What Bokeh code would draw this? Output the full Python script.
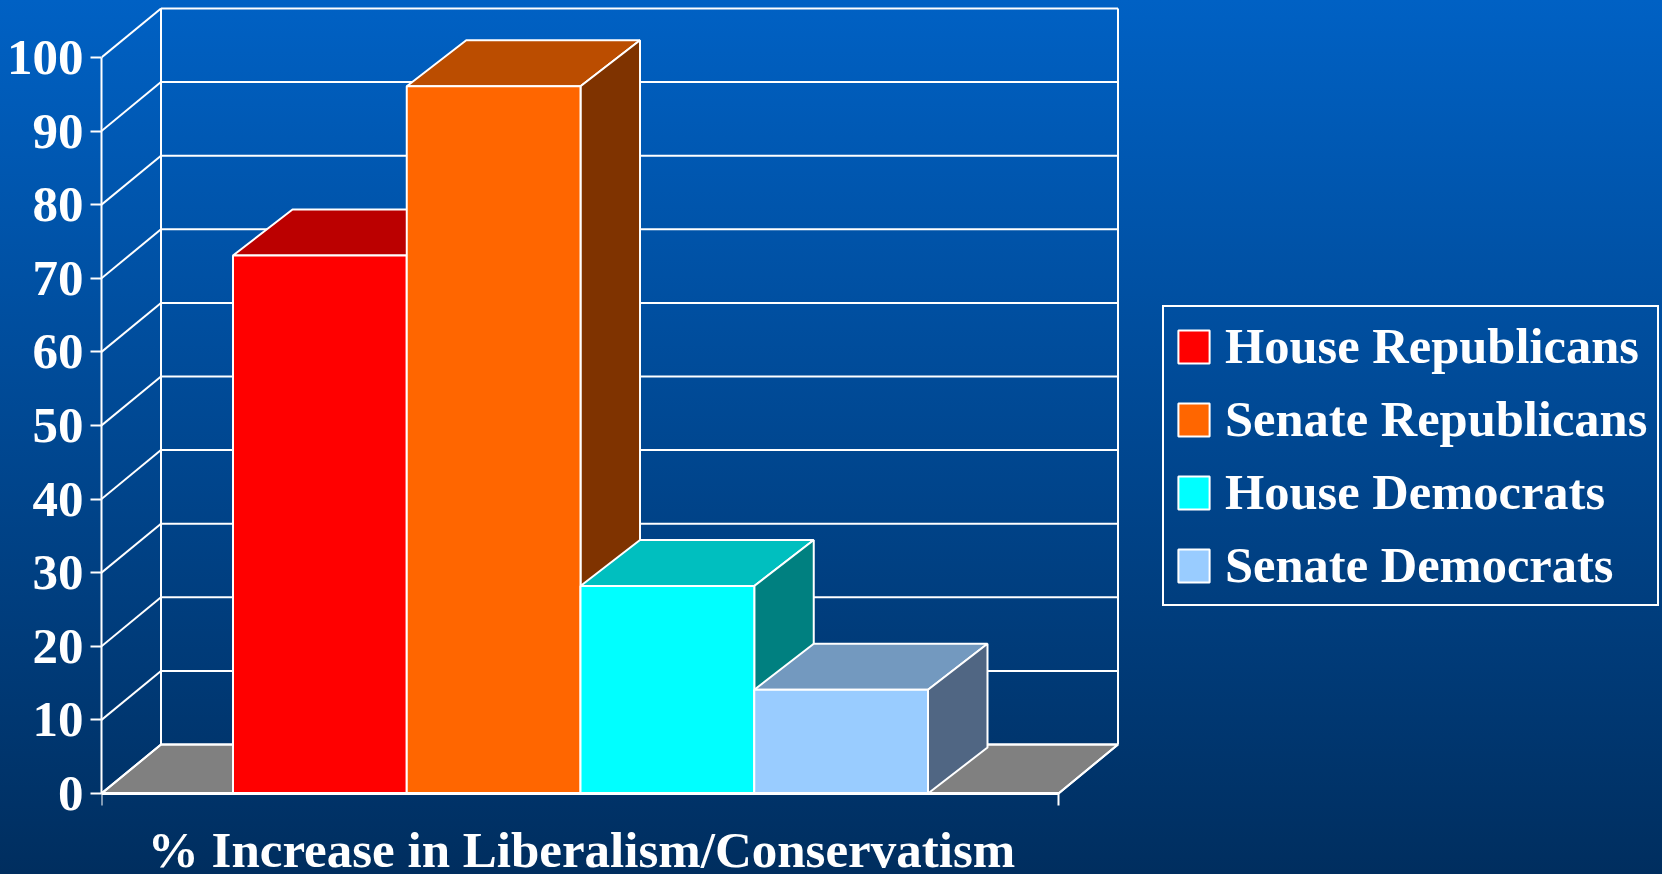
from bokeh.plotting import figure
from bokeh.models import Legend, LegendItem, FixedTicker, GlobalInlineStyleSheet, Label
from bokeh.embed import file_html
from bokeh.resources import INLINE

# ---- data ----
series = ["House Republicans", "Senate Republicans", "House Democrats", "Senate Democrats"]
values = [73.1, 96.1, 28.2, 14.1]
front_colors = ["#FF0000", "#FF6600", "#00FFFF", "#99CCFF"]
top_colors = ["#BB0000", "#BB4D00", "#00BFBF", "#7399BF"]
side_colors = ["#800000", "#7F3300", "#008080", "#506683"]
y_ticks = [0, 10, 20, 30, 40, 50, 60, 70, 80, 90, 100]
x_label = "% Increase in Liberalism/Conservatism"

# ---- layout (page pixels) ----
W, H = 1662, 874
LEFT = 101
ZERO_Y = 793       # page row of value 0
FONT = "Liberation Serif"
PX_X = 173.75      # pixels per bar
PX_Y = 7.36        # pixels per percentage point
frame_w = W - LEFT
x0 = (101 - 232.5) / PX_X           # front-left corner of the box, in bar units
x1 = x0 + (1058 - 101) / PX_X       # front-right corner
dx = 59.5 / PX_X                    # 3-D depth
dy = 49 / PX_Y                      # depth of the walls
bar_dy = 46 / PX_Y                  # depth of the bars

p = figure(width=W, height=H, output_backend="svg", toolbar_location=None,
           x_range=(x0, x0 + frame_w / PX_X),
           y_range=(-(H - ZERO_Y) / PX_Y, ZERO_Y / PX_Y),
           min_border_left=LEFT, min_border_bottom=0, min_border_top=0, min_border_right=0,
           background_fill_color=None, border_fill_color=None, outline_line_color=None)
p.grid.visible = False
p.stylesheets = [GlobalInlineStyleSheet(css=(
    "html{height:100%;overflow:hidden;background:linear-gradient(#0061c4,#002e5f) no-repeat;}"
    "body{background:transparent;}"))]

WHITE = "#FFFFFF"

# floor
p.patch([x0, x1, x1 + dx, x0 + dx], [0, 0, dy, dy], fill_color="#808080", line_color=WHITE, line_width=2)

# back wall: gridlines, diagonals and frame
top_tick = y_ticks[-1]
p.segment([x0 + dx] * len(y_ticks), [t + dy for t in y_ticks],
          [x1 + dx] * len(y_ticks), [t + dy for t in y_ticks], line_color=WHITE, line_width=2)
p.segment([x0] * len(y_ticks), y_ticks,
          [x0 + dx] * len(y_ticks), [t + dy for t in y_ticks], line_color=WHITE, line_width=2)
p.segment([x0 + dx, x1 + dx], [dy, dy], [x0 + dx, x1 + dx], [top_tick + dy, top_tick + dy],
          line_color=WHITE, line_width=2)
p.segment([x1], [0], [x1 + dx], [dy], line_color=WHITE, line_width=2)

# 3-D bars
items = []
for i, (name, v) in enumerate(zip(series, values)):
    p.patch([i, i + 1, i + 1 + dx, i + dx], [v, v, v + bar_dy, v + bar_dy],
            fill_color=top_colors[i], line_color=WHITE, line_width=2)
    p.patch([i + 1, i + 1 + dx, i + 1 + dx, i + 1], [0, bar_dy, v + bar_dy, v],
            fill_color=side_colors[i], line_color=WHITE, line_width=2)
    r = p.vbar(x=[i + 0.5], width=1, bottom=0, top=[v],
               fill_color=front_colors[i], line_color=WHITE, line_width=2)
    items.append(LegendItem(label=name, renderers=[r]))

# axes
ya = p.yaxis[0]
ya.ticker = FixedTicker(ticks=y_ticks)
ya.bounds = (0, top_tick)
ya.axis_line_color = WHITE
ya.axis_line_width = 2
ya.major_tick_line_color = WHITE
ya.major_tick_line_width = 2
ya.major_tick_in = 0
ya.major_tick_out = 11
ya.minor_tick_line_color = None
ya.major_label_text_color = WHITE
ya.major_label_text_font = FONT
ya.major_label_text_font_style = "bold"
ya.major_label_text_font_size = "51px"
ya.major_label_standoff = 7

xa = p.xaxis[0]
xa.fixed_location = 0
xa.ticker = FixedTicker(ticks=[x0, x1])
xa.bounds = (x0, x1)
xa.axis_line_color = WHITE
xa.axis_line_width = 3
xa.major_tick_line_color = WHITE
xa.major_tick_line_width = 2
xa.major_tick_in = 0
xa.major_tick_out = 12
xa.minor_tick_line_color = None
xa.major_label_overrides = {x0: "", x1: ""}

p.add_layout(Label(x=(581 - 232.5) / PX_X, y=-(849 - ZERO_Y) / PX_Y, text=x_label, text_align="center",
                   text_baseline="alphabetic", text_color=WHITE, text_font=FONT,
                   text_font_style="bold", text_font_size="51px"))

legend = Legend(items=items, location=(1061, 268), orientation="vertical",
                background_fill_color=None, border_line_color=WHITE, border_line_width=2,
                border_line_alpha=1,
                label_text_color=WHITE, label_text_font=FONT, label_text_font_style="bold",
                label_text_font_size="50.5px",
                glyph_width=39, glyph_height=41,
                label_standoff=12, spacing=15, padding=10, margin=0)
p.add_layout(legend, "center")

open("out.html", "w").write(file_html(p, INLINE))
